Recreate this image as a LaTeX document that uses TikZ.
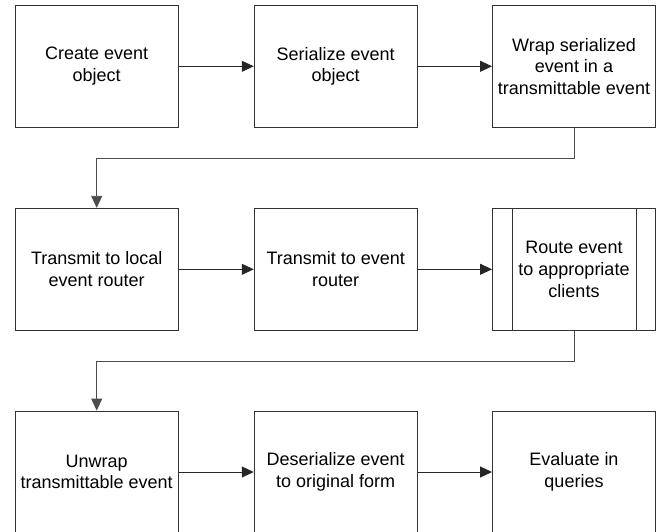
\documentclass[tikz,border=0pt]{standalone}
\usepackage{fontspec}
\setmainfont{Liberation Sans}
\usetikzlibrary{arrows.meta}
\begin{document}
\begin{tikzpicture}[x=1bp,y=-1bp,
  stepbox/.style={draw=black!80, line width=0.9bp, rectangle, fill=white,
    minimum width=163bp, minimum height=122bp, inner sep=0pt, align=center,
    font=\fontsize{18bp}{21.7bp}\selectfont},
  flow/.style={line width=0.9bp, draw=black!85,
    -{Triangle[length=12bp,width=11bp]}},
  elbow/.style={flow, draw=black!70}]
\clip (0,0) rectangle (658,532);
\fill[white] (0,0) rectangle (658,532);

% first row
\node[stepbox] (create) at (96.7,66.3) {Create event\\object};
\node[stepbox] (serial) at (335.7,66.3) {Serialize event\\object};
\node[stepbox] (wrap)   at (574,66.3) {Wrap serialized\\event in a\\transmittable event};

% second row
\node[stepbox] (local)  at (96.7,269.3) {Transmit to local\\event router};
\node[stepbox] (router) at (335.7,269.3) {Transmit to event\\router};
\node[stepbox] (route)  at (574,269.3) {Route event\\to appropriate\\clients};
\draw[draw=black!80, line width=0.9bp]
  ([xshift=20bp]route.north west) -- ([xshift=20bp]route.south west)
  ([xshift=-20bp]route.north east) -- ([xshift=-20bp]route.south east);

% third row (runs past the lower edge)
\node[stepbox] (unwrap) at (96.7,472) {Unwrap\\transmittable event};
\node[stepbox] (deser)  at (335.7,472) {Deserialize event\\to original form};
\node[stepbox] (eval)   at (574,472) {Evaluate in\\queries};

% connectors
\draw[flow] (create) -- (serial);
\draw[flow] (serial) -- (wrap);
\draw[flow] (local) -- (router);
\draw[flow] (router) -- (route);
\draw[flow] (unwrap) -- (deser);
\draw[flow] (deser) -- (eval);

\coordinate (b1) at (574,158);
\coordinate (b2) at (96.7,158);
\draw[elbow] (wrap.south) -- (b1) -- (b2) -- (local.north);
\coordinate (c1) at (574,361);
\coordinate (c2) at (96.7,361);
\draw[elbow] (route.south) -- (c1) -- (c2) -- (unwrap.north);
\end{tikzpicture}
\end{document}
